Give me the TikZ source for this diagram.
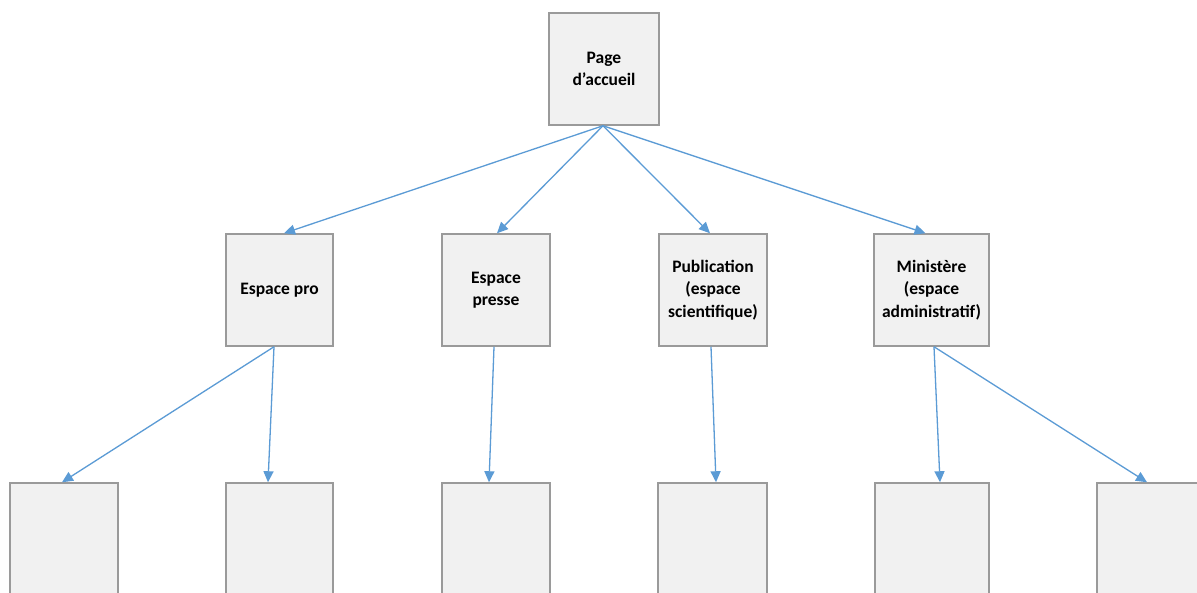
\documentclass[tikz,border=0pt]{standalone}
\usepackage{fontspec}
\setmainfont{Carlito}
\usetikzlibrary{arrows.meta}
\definecolor{boxfill}{HTML}{F1F1F1}
\definecolor{boxline}{HTML}{9A9A9A}
\definecolor{arrblue}{HTML}{5B9BD5}
\tikzset{
  box/.style={draw=boxline, fill=boxfill, line width=1.5pt, inner sep=0pt,
    align=center, minimum height=112pt,
    font=\bfseries\fontsize{17.5}{22.5}\selectfont},
  lowbox/.style={box, minimum height=120pt},
  arr/.style={draw=arrblue, line width=1.3pt,
    -{Triangle[length=11pt,width=10pt]}}
}
\begin{document}
\begin{tikzpicture}[x=1pt,y=-1pt]
\clip (0,0) rectangle (1197,592);
\fill[white] (0,0) rectangle (1197,592);
\node[box, minimum width=110pt] (top) at (604,69) {Page\\d’accueil};
\node[box, minimum width=107pt] (A) at (279.5,290) {Espace pro};
\node[box, minimum width=108pt] (B) at (496,290) {Espace\\presse};
\node[box, minimum width=108pt] (C) at (713,290) {Publication\\(espace\\scientifique)};
\node[box, minimum width=115pt] (D) at (931.5,290) {Ministère\\(espace\\administratif)};
\node[lowbox, minimum width=108pt] (b1) at (64,543) {};
\node[lowbox, minimum width=107pt] (b2) at (279.5,543) {};
\node[lowbox, minimum width=108pt] (b3) at (496,543) {};
\node[lowbox, minimum width=109pt] (b4) at (712.5,543) {};
\node[lowbox, minimum width=114pt] (b5) at (932,543) {};
\node[lowbox, minimum width=108pt] (b6) at (1151,543) {};
\draw[arr] ([xshift=-1pt]top.south) -- ([xshift=4.5pt]A.north);
\draw[arr] ([xshift=-1pt]top.south) -- ([xshift=1pt]B.north);
\draw[arr] ([xshift=-1pt]top.south) -- ([xshift=-3pt]C.north);
\draw[arr] ([xshift=-1pt]top.south) -- ([xshift=-6pt]D.north);
\draw[arr] ([xshift=-5.5pt]A.south) -- ([xshift=-2pt]b1.north);
\draw[arr] ([xshift=-5.5pt]A.south) -- ([xshift=-11.5pt]b2.north);
\draw[arr] ([xshift=-2pt]B.south) -- ([xshift=-7pt]b3.north);
\draw[arr] ([xshift=-2pt]C.south) -- ([xshift=3.5pt]b4.north);
\draw[arr] ([xshift=2.5pt]D.south) -- ([xshift=8pt]b5.north);
\draw[arr] ([xshift=2.5pt]D.south) -- ([xshift=-4pt]b6.north);
\end{tikzpicture}
\end{document}
